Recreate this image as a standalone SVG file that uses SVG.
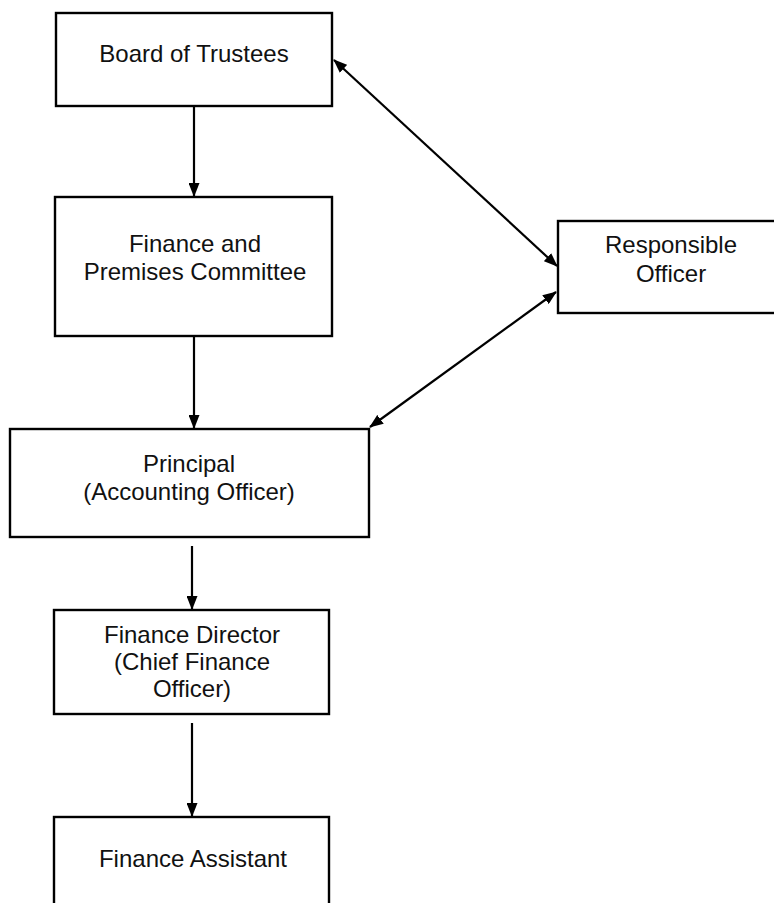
<svg xmlns="http://www.w3.org/2000/svg" width="774" height="903" viewBox="0 0 774 903">
<style>
.box{fill:#fff;stroke:#000;stroke-width:2.4}
.t{font-family:"Liberation Sans",Arial,sans-serif;font-size:24px;fill:#111;text-anchor:middle}
.c{stroke:#000;stroke-width:2.2;fill:none}
</style>
<defs>
<marker id="ah" viewBox="0 0 14 11" refX="13" refY="5.5" markerWidth="14" markerHeight="11" markerUnits="userSpaceOnUse" orient="auto-start-reverse">
<path d="M0,0 L14,5.5 L0,11 Z" fill="#000"/>
</marker>
</defs>
<rect width="774" height="903" fill="#fff"/>
<g id="connectors">
<line class="c" x1="194" y1="107" x2="194" y2="196" marker-end="url(#ah)"/>
<line class="c" x1="194" y1="337" x2="194" y2="428" marker-end="url(#ah)"/>
<line class="c" x1="192" y1="546" x2="192" y2="609" stroke-width="1.6" marker-end="url(#ah)"/>
<line class="c" x1="192" y1="723" x2="192" y2="816" marker-end="url(#ah)"/>
<line class="c" x1="334" y1="60" x2="557" y2="266" marker-start="url(#ah)" marker-end="url(#ah)"/>
<line class="c" x1="370" y1="427" x2="556" y2="292" marker-start="url(#ah)" marker-end="url(#ah)"/>
</g>
<g id="board">
<rect class="box" x="56" y="13" width="276" height="93"/>
<text class="t" x="194" y="62">Board of Trustees</text>
</g>
<g id="fpc">
<rect class="box" x="55" y="197" width="277" height="139"/>
<text class="t" x="195" y="252">Finance and</text>
<text class="t" x="195" y="280">Premises Committee</text>
</g>
<g id="principal">
<rect class="box" x="10" y="429" width="359" height="108"/>
<text class="t" x="189" y="472">Principal</text>
<text class="t" x="189" y="500">(Accounting Officer)</text>
</g>
<g id="fd">
<rect class="box" x="54" y="610" width="275" height="104"/>
<text class="t" x="192" y="643">Finance Director</text>
<text class="t" x="192" y="670">(Chief Finance</text>
<text class="t" x="192" y="697">Officer)</text>
</g>
<g id="fa">
<rect class="box" x="54" y="817" width="275" height="100"/>
<text class="t" x="193" y="867">Finance Assistant</text>
</g>
<g id="ro">
<rect class="box" x="558" y="221" width="230" height="92"/>
<text class="t" x="671" y="253">Responsible</text>
<text class="t" x="671" y="282">Officer</text>
</g>
</svg>
